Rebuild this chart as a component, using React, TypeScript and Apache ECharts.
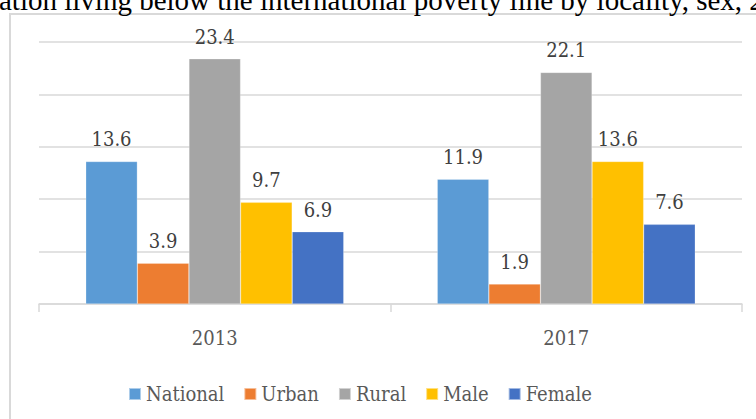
import React, { useEffect, useRef } from "react";
import * as echarts from "echarts";

const titleText = "ation living below the international poverty line by locality, sex, 2";
const categories = ["2013", "2017"];
const seriesNames = ["National", "Urban", "Rural", "Male", "Female"];
const national = [13.6, 11.9];
const urban = [3.9, 1.9];
const rural = [23.4, 22.1];
const male = [9.7, 13.6];
const female = [6.9, 7.6];
const colors = ["#5B9BD5", "#ED7D31", "#A5A5A5", "#FFC000", "#4472C4"];

export default function App() {
  const ref = useRef<HTMLDivElement>(null);
  useEffect(() => {
    if (!ref.current) return;
    const chart = echarts.init(ref.current, null, { renderer: "svg" });
    const values = [national, urban, rural, male, female];
    const font = "'DejaVu Serif Condensed', 'DejaVu Serif', serif";
    chart.setOption({
      animation: false,
      color: colors,
      graphic: [
        {
          type: "rect",
          shape: { x: 10, y: 14, width: 800, height: 500 },
          style: { fill: "none", stroke: "#d9d9d9", lineWidth: 2 },
          silent: true,
          z: -10,
        },
        {
          type: "text",
          x: -1,
          y: 0,
          style: {
            text: titleText,
            font: "29px 'Liberation Serif', serif",
            fill: "#000000",
            textAlign: "left",
            textVerticalAlign: "middle",
          },
        },
      ],
      grid: { left: 39, right: 14, top: 42, bottom: 115, containLabel: false },
      legend: {
        left: 123,
        top: 379,
        itemWidth: 12,
        itemHeight: 12,
        itemGap: 19,
        icon: "rect",
        textStyle: { fontFamily: font, fontSize: 20, color: "#595959" },
        data: seriesNames,
      },
      xAxis: {
        type: "category",
        data: categories,
        axisLine: { lineStyle: { color: "#d9d9d9", width: 1.5 } },
        axisTick: { show: true, length: 8, lineStyle: { color: "#d9d9d9", width: 1.5 } },
        axisLabel: { fontFamily: font, fontSize: 20, color: "#595959", margin: 24 },
      },
      yAxis: {
        type: "value",
        min: 0,
        max: 25,
        interval: 5,
        axisLabel: { show: false },
        axisLine: { show: false },
        axisTick: { show: false },
        splitLine: { lineStyle: { color: "#d9d9d9", width: 1.5 } },
      },
      series: seriesNames.map((name, i) => ({
        name,
        type: "bar",
        data: values[i],
        barGap: "0%",
        barCategoryGap: "26.6%",
        itemStyle: { color: colors[i], borderColor: "rgba(255,255,255,0.5)", borderWidth: 0.5 },
        label: {
          show: true,
          position: "top",
          distance: 12,
          fontFamily: font,
          fontSize: 20,
          color: "#404040",
          formatter: (p: any) => p.value.toFixed(1),
        },
      })),
    });
    return () => chart.dispose();
  }, []);
  return (
    <div
      ref={ref}
      style={{ position: "fixed", left: 0, top: 0, width: 756, height: 419, background: "#fff" }}
    />
  );
}
